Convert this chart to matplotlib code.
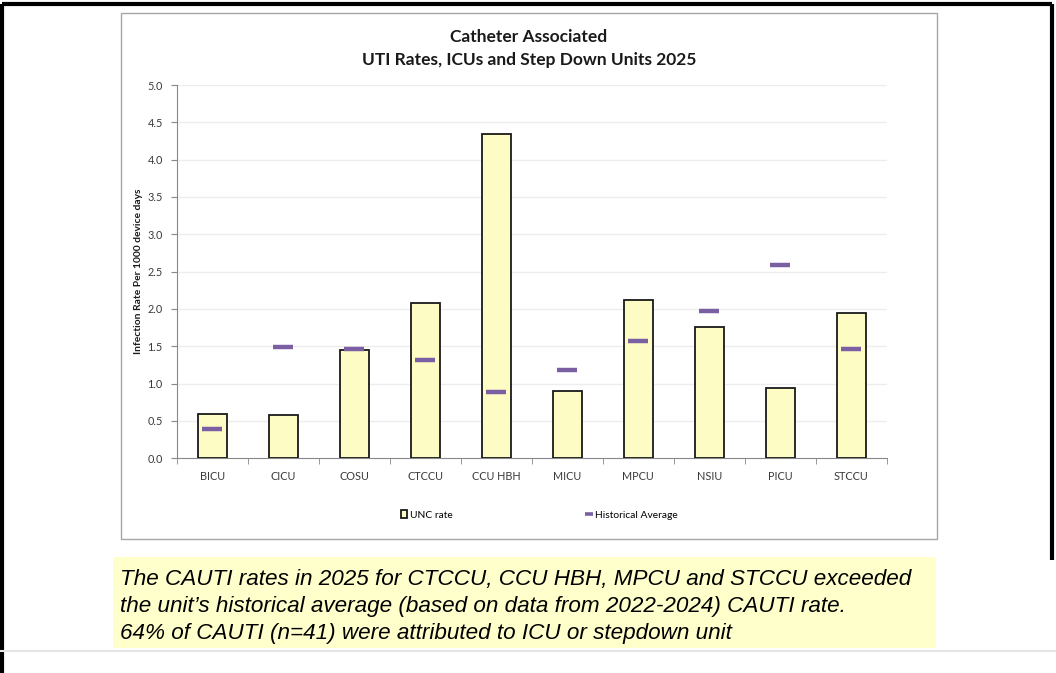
import matplotlib
matplotlib.use("Agg")
import matplotlib.pyplot as plt
from matplotlib.patches import Rectangle
from matplotlib.lines import Line2D
import numpy as np

units = ["BICU", "CICU", "COSU", "CTCCU", "CCU HBH", "MICU", "MPCU", "NSIU", "PICU", "STCCU"]
unc_rate = [0.59, 0.58, 1.45, 2.08, 4.34, 0.90, 2.12, 1.76, 0.94, 1.95]
hist_avg = [0.39, 1.49, 1.46, 1.32, 0.89, 1.18, 1.57, 1.97, 2.59, 1.46]
yticks = [0.0, 0.5, 1.0, 1.5, 2.0, 2.5, 3.0, 3.5, 4.0, 4.5, 5.0]
title_lines = ["Catheter Associated", "UTI Rates, ICUs and Step Down Units 2025"]
note_lines = [
    "The CAUTI rates in 2025 for CTCCU, CCU HBH, MPCU and STCCU exceeded",
    "the unit\u2019s historical average (based on data from 2022-2024) CAUTI rate.",
    "64% of CAUTI (n=41) were attributed to ICU or stepdown unit",
]

W, H = 1056, 673
fig = plt.figure(figsize=(W / 100, H / 100), dpi=100)
fig.patch.set_facecolor("white")

def fx(px):
    return px / W

def fy(py):
    return 1 - py / H

# background axes for decorations
bg = fig.add_axes([0, 0, 1, 1], zorder=-5)
bg.set_xlim(0, W)
bg.set_ylim(H, 0)
bg.axis("off")

# outer slide border
bg.plot([2, 1052], [4, 4], color="black", lw=3, solid_capstyle="butt")
bg.plot([2, 2], [4, 673], color="black", lw=3, solid_capstyle="butt")
bg.plot([1052, 1052], [4, 560], color="black", lw=3, solid_capstyle="butt")
bg.plot([0, W], [651, 651], color="#e6e6e6", lw=1.5)

# chart area box
bg.add_patch(Rectangle((121, 13), 816, 526, facecolor="white", edgecolor="#a6a6a6", lw=1))

# note box
bg.add_patch(Rectangle((113, 557), 823, 91, facecolor="#ffffcc", edgecolor="none"))

# title
fig.text(fx(529), fy(37), title_lines[0], ha="center", va="center",
         fontsize=12.5, fontweight="bold", family="Lato", color="#1a1a1a")
fig.text(fx(529), fy(60), title_lines[1], ha="center", va="center",
         fontsize=12.5, fontweight="bold", family="Lato", color="#1a1a1a")

ax = fig.add_axes([fx(176.7), fy(458.3), fx(886.7) - fx(176.7), fy(85) - fy(458.3)])
ax.set_facecolor("none")
x = np.arange(len(units))
ax.bar(x, unc_rate, width=0.41, color="#fcfcc4", edgecolor="#1a1a1a", linewidth=1.3,
       zorder=3, label="UNC rate")
ax.plot(x, hist_avg, linestyle="none", marker="_", markersize=15, mew=3.2,
        color="#7b5fa3", zorder=4, label="Historical Average")

ax.set_xlim(-0.5, len(units) - 0.5)
ax.set_ylim(0, 5.0)
ax.set_yticks(yticks)
ax.set_yticklabels([f"{v:.1f}" for v in yticks], fontsize=7.8, family="Lato", color="#3a3a3a")
ax.set_xticks(x)
ax.set_xticklabels(units, fontsize=7.8, family="Lato", color="#3a3a3a")
ax.set_xticks(np.arange(len(units) + 1) - 0.5, minor=True)
ax.tick_params(axis="x", which="major", length=0, pad=9)
ax.tick_params(axis="x", which="minor", length=4, color="#888888", direction="out")
ax.tick_params(axis="y", length=4, color="#888888", pad=6)
for v in yticks[1:]:
    ax.axhline(v, color="#ededed", lw=1, zorder=1)
for s in ["top", "right"]:
    ax.spines[s].set_visible(False)
ax.spines["left"].set_color("#888888")
ax.spines["bottom"].set_color("#888888")
ax.set_ylabel("Infection Rate Per 1000 device days", fontsize=7.4, fontweight="bold",
              family="Lato", color="#1a1a1a", labelpad=3)

# legend
h_bar = Rectangle((0, 0), 1, 1, facecolor="#fcfcc4", edgecolor="#1a1a1a", lw=1.3)
h_line = Line2D([], [], linestyle="none", marker="_", markersize=6, mew=2.6, color="#7b5fa3")
fig.legend([h_bar], ["UNC rate"], loc="center left", bbox_to_anchor=(fx(396), fy(515)),
           frameon=False, prop={"family": "Lato", "size": 7.4}, handlelength=0.6,
           handleheight=0.7, handletextpad=0.25, borderpad=0)
fig.legend([h_line], ["Historical Average"], loc="center left",
           bbox_to_anchor=(fx(581), fy(515)), frameon=False,
           prop={"family": "Lato", "size": 7.4}, handlelength=0.6,
           handletextpad=0.3, borderpad=0)

for i, line in enumerate(note_lines):
    fig.text(fx(120), fy(580 + i * 26.5), line, ha="left", va="center", fontsize=16.2,
             style="italic", family=["Liberation Sans Narrow", "Liberation Sans"], color="#000000")

fig.savefig("out.png", dpi=100)
